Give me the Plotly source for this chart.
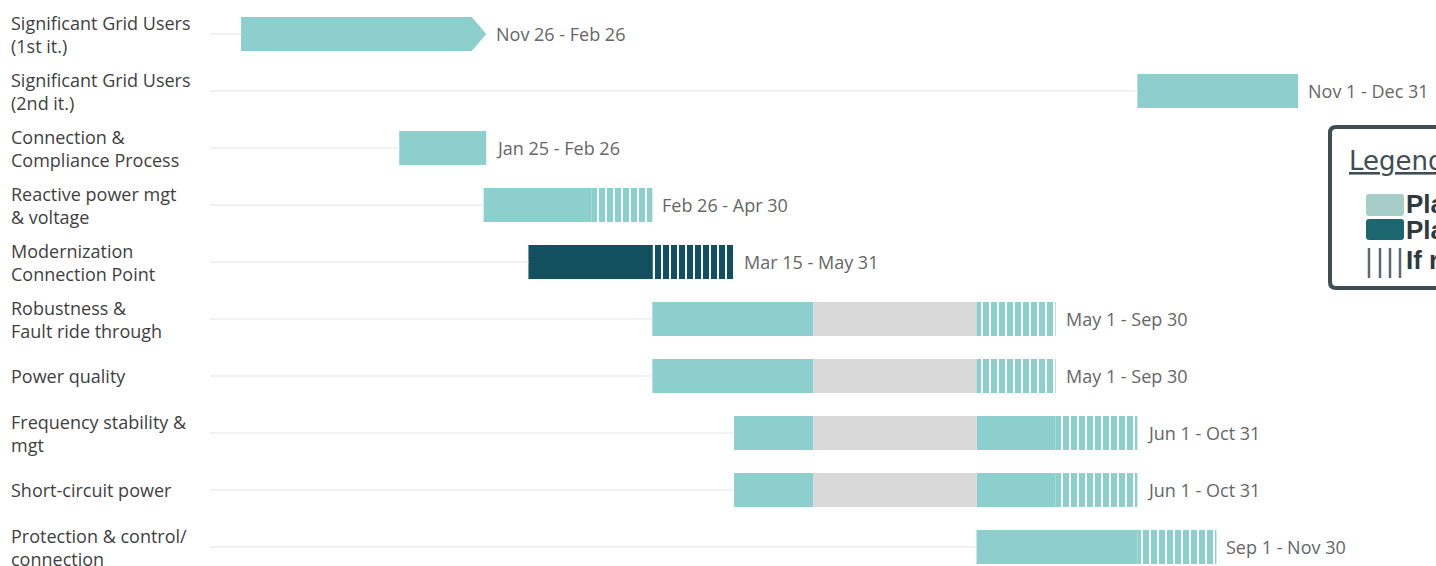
import pandas as pd
import plotly.graph_objects as go

# ---------------- data ----------------
tasks = [
    "Significant Grid Users<br>(1st it.)",
    "Significant Grid Users<br>(2nd it.)",
    "Connection &<br>Compliance Process",
    "Reactive power mgt<br>& voltage",
    "Modernization<br>Connection Point",
    "Robustness &<br>Fault ride through",
    "Power quality",
    "Frequency stability &<br>mgt",
    "Short-circuit power",
    "Protection & control/<br>connection",
]
period_labels = [
    "Nov 26 - Feb 26", "Nov 1 - Dec 31", "Jan 25 - Feb 26", "Feb 26 - Apr 30",
    "Mar 15 - May 31", "May 1 - Sep 30", "May 1 - Sep 30", "Jun 1 - Oct 31",
    "Jun 1 - Oct 31", "Sep 1 - Nov 30",
]
seg_task = [0, 1, 2, 3, 3, 4, 4, 5, 5, 5, 6, 6, 6, 7, 7, 7, 7, 8, 8, 8, 8, 9, 9]
seg_start = [
    "2018-11-26", "2019-11-01", "2019-01-25", "2019-02-26", "2019-04-08",
    "2019-03-15", "2019-05-01",
    "2019-05-01", "2019-07-01", "2019-09-01",
    "2019-05-01", "2019-07-01", "2019-09-01",
    "2019-06-01", "2019-07-01", "2019-09-01", "2019-10-01",
    "2019-06-01", "2019-07-01", "2019-09-01", "2019-10-01",
    "2019-09-01", "2019-11-01",
]
seg_end = [
    "2019-02-27", "2020-01-01", "2019-02-27", "2019-04-08", "2019-05-01",
    "2019-05-01", "2019-06-01",
    "2019-07-01", "2019-09-01", "2019-10-01",
    "2019-07-01", "2019-09-01", "2019-10-01",
    "2019-07-01", "2019-09-01", "2019-10-01", "2019-11-01",
    "2019-07-01", "2019-09-01", "2019-10-01", "2019-11-01",
    "2019-11-01", "2019-12-01",
]
seg_kind = [
    "arrow", "planned", "planned", "planned", "optional",
    "priority", "priority_optional",
    "planned", "paused", "optional",
    "planned", "paused", "optional",
    "planned", "paused", "planned", "optional",
    "planned", "paused", "planned", "optional",
    "planned", "optional",
]
legend_items = ["Planned", "Planned (priority)", "If required"]

# ---------------- style ----------------
W, H = 1436, 566
L_MARGIN = 210
TEAL = "#8ccfcc"
GRAY = "#d9d9d9"
DARK = "#124f5f"
BAR_W = 0.6
PX_PER_DAY = 2.636
JAN1 = pd.Timestamp("2019-01-01")
JAN1_PX = 336
x0 = JAN1 - pd.Timedelta(days=(JAN1_PX - L_MARGIN) / PX_PER_DAY)
x1 = JAN1 + pd.Timedelta(days=(W - JAN1_PX) / PX_PER_DAY)
ROW0_PX, ROW_STEP = 34.0, 57.0
y_top = -ROW0_PX / ROW_STEP
y_bot = y_top + H / ROW_STEP
LABEL_FONT = "Open Sans"

styles = {
    "planned": dict(color=TEAL),
    "paused": dict(color=GRAY),
    "priority": dict(color=DARK),
    "optional": dict(color=TEAL, pattern=dict(shape="|", fgcolor="white", bgcolor=TEAL,
                                              size=8, solidity=0.25, fillmode="replace")),
    "priority_optional": dict(color=DARK, pattern=dict(shape="|", fgcolor="white", bgcolor=DARK,
                                                       size=8, solidity=0.25, fillmode="replace")),
}

fig = go.Figure()

# leader lines from the left edge to each task start
row_start = {}
for t, s in zip(seg_task, seg_start):
    ts = pd.Timestamp(s)
    if t not in row_start or ts < row_start[t]:
        row_start[t] = ts
lx, ly = [], []
for t in range(len(tasks)):
    lx += [x0, row_start[t], None]
    ly += [t, t, None]
fig.add_trace(go.Scatter(x=lx, y=ly, mode="lines", line=dict(color="#eeeeee", width=1.5),
                         hoverinfo="skip", showlegend=False))

# bars
for kind, st in styles.items():
    idx = [i for i, k in enumerate(seg_kind) if k == kind]
    if not idx:
        continue
    ys = [seg_task[i] for i in idx]
    bases = [seg_start[i] for i in idx]
    durs = [(pd.Timestamp(seg_end[i]) - pd.Timestamp(seg_start[i])).total_seconds() * 1000 for i in idx]
    fig.add_trace(go.Bar(orientation="h", y=ys, x=durs, base=bases, width=BAR_W,
                         marker=dict(line=dict(width=0), **st), showlegend=False,
                         hoverinfo="skip"))

# arrow-shaped bars
ARROW_DAYS = 5.5
for i, k in enumerate(seg_kind):
    if k != "arrow":
        continue
    t = seg_task[i]
    s = pd.Timestamp(seg_start[i])
    e = pd.Timestamp(seg_end[i])
    n = e - pd.Timedelta(days=ARROW_DAYS)
    h = BAR_W / 2
    fig.add_trace(go.Scatter(x=[s, n, e, n, s, s], y=[t - h, t - h, t, t + h, t + h, t - h],
                             mode="lines", fill="toself", fillcolor=TEAL,
                             line=dict(width=0, color=TEAL), hoverinfo="skip", showlegend=False))

annotations = []
# task labels
for t, name in enumerate(tasks):
    annotations.append(dict(xref="paper", x=0, xshift=-L_MARGIN + 9, xanchor="left",
                            yref="y", y=t, yanchor="middle", text=name, align="left",
                            showarrow=False,
                            font=dict(family=LABEL_FONT, size=18, color="#3f3f3f")))
# period labels
row_end = {}
for t, e in zip(seg_task, seg_end):
    te = pd.Timestamp(e)
    if t not in row_end or te > row_end[t]:
        row_end[t] = te
for t, lab in enumerate(period_labels):
    annotations.append(dict(xref="x", x=row_end[t], xshift=8, xanchor="left",
                            yref="y", y=t, yanchor="middle", text=lab, showarrow=False,
                            font=dict(family=LABEL_FONT, size=18, color="#666666")))

# ---------------- legend box ----------------
def px(x):
    return (x - L_MARGIN) / (W - L_MARGIN)

def py(y):
    return 1 - y / H

def rounded(xa, ya, xb, yb, r):
    return (f"M {px(xa + r)},{py(ya)} L {px(xb - r)},{py(ya)} Q {px(xb)},{py(ya)} {px(xb)},{py(ya + r)} "
            f"L {px(xb)},{py(yb - r)} Q {px(xb)},{py(yb)} {px(xb - r)},{py(yb)} "
            f"L {px(xa + r)},{py(yb)} Q {px(xa)},{py(yb)} {px(xa)},{py(yb - r)} "
            f"L {px(xa)},{py(ya + r)} Q {px(xa)},{py(ya)} {px(xa + r)},{py(ya)} Z")

shapes = [
    dict(type="path", xref="paper", yref="paper", path=rounded(1330, 127, 1480, 288, 6),
         line=dict(color="#3f4d55", width=4), fillcolor="white", layer="above"),
    dict(type="path", xref="paper", yref="paper", path=rounded(1366, 194, 1404, 216, 3),
         line=dict(width=0), fillcolor="#a6cdc8", layer="above"),
    dict(type="path", xref="paper", yref="paper", path=rounded(1366, 219, 1404, 240, 3),
         line=dict(width=0), fillcolor="#1c6670", layer="above"),
]
for xs in (1369, 1380, 1390, 1400):
    shapes.append(dict(type="line", xref="paper", yref="paper", x0=px(xs), x1=px(xs),
                       y0=py(248), y1=py(278), line=dict(color="#5b6b73", width=2.5),
                       layer="above"))

annotations.append(dict(xref="paper", yref="paper", x=px(1347), y=py(161), xanchor="left",
                        yanchor="middle", text="<u>Legend:</u>", showarrow=False,
                        font=dict(family="DejaVu Sans", size=26, color="#3f4d55")))
for yc, lab in zip((204, 230, 260), legend_items):
    annotations.append(dict(xref="paper", yref="paper", x=px(1404), y=py(yc), xanchor="left",
                            yanchor="middle", text=f"<b>{lab}</b>", showarrow=False,
                            font=dict(family="Liberation Sans", size=26, color="#2f3a40")))

fig.update_layout(
    width=W, height=H,
    margin=dict(l=L_MARGIN, r=0, t=0, b=0),
    paper_bgcolor="white", plot_bgcolor="white",
    barmode="overlay",
    xaxis=dict(type="date", range=[x0, x1], visible=False),
    yaxis=dict(range=[y_bot, y_top], visible=False),
    shapes=shapes, annotations=annotations,
    showlegend=False,
)
fig.write_html("out.html")
